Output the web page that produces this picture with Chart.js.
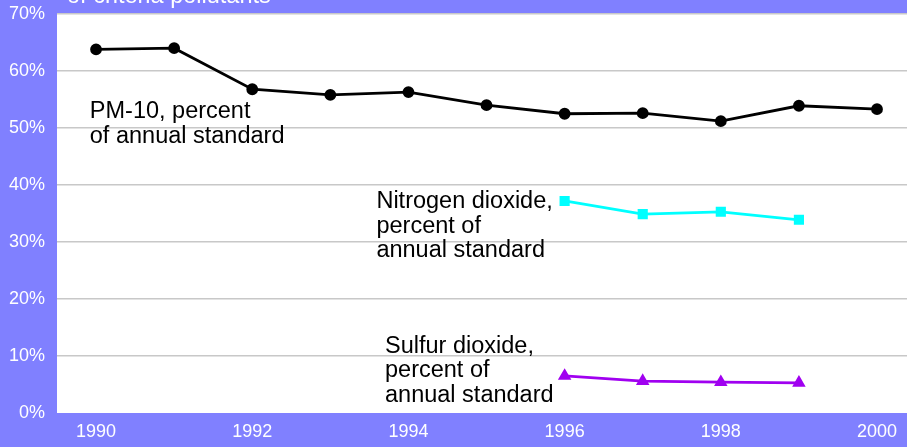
<!DOCTYPE html>
<html>
<head>
<meta charset="utf-8">
<style>
  html, body { margin: 0; padding: 0; background: #8080ff; }
  #wrap { width: 907px; height: 447px; }
</style>
<script src="https://cdn.jsdelivr.net/npm/chart.js@4.4.1/dist/chart.umd.min.js"></script>
</head>
<body>
<div id="wrap"><canvas id="chart" width="907" height="447"></canvas></div>
<script>
const years = [1990, 1991, 1992, 1993, 1994, 1995, 1996, 1997, 1998, 1999, 2000];
const pm10 = [63.8, 64.0, 56.8, 55.8, 56.3, 54.0, 52.5, 52.6, 51.2, 53.9, 53.3];
const no2Years = [1996, 1997, 1998, 1999];
const no2 = [37.2, 34.9, 35.3, 33.9];
const so2Years = [1996, 1997, 1998, 1999];
const so2 = [6.5, 5.6, 5.4, 5.3];
const xTicks = [1990, 1992, 1994, 1996, 1998, 2000];
const yTicks = [0, 10, 20, 30, 40, 50, 60, 70];

const FONT = '"Liberation Sans", Arial, sans-serif';

// text labels placed in data coordinates (x = year, y = percent at first baseline)
const notes = [
  { lines: ['PM-10, percent', 'of annual standard'], x: 1989.92, y: 51.75 },
  { lines: ['Nitrogen dioxide,', 'percent of', 'annual standard'], x: 1993.59, y: 35.96 },
  { lines: ['Sulfur dioxide,', 'percent of', 'annual standard'], x: 1993.70, y: 10.53 }
];

const pts = (xs, ys) => xs.map((x, i) => ({ x: x, y: ys[i] }));
const noPad = () => ({ left: 0, top: 0, right: 0, bottom: 0 });

const backdrop = {
  id: 'backdrop',
  beforeDraw(chart) {
    const { ctx, chartArea: a } = chart;
    ctx.save();
    ctx.fillStyle = '#8080ff';
    ctx.fillRect(0, 0, chart.width, chart.height);
    ctx.fillStyle = '#ffffff';
    ctx.fillRect(a.left, a.top, a.right - a.left, a.bottom - a.top);
    ctx.restore();
  },
  afterDraw(chart) {
    const { ctx, scales } = chart;
    ctx.save();
    ctx.font = '23.5px ' + FONT;
    ctx.textBaseline = 'alphabetic';
    ctx.fillStyle = '#ffffff';
    ctx.fillText('of criteria pollutants', 67, 3);
    ctx.fillStyle = '#000000';
    notes.forEach(n => {
      const px = scales.x.getPixelForValue(n.x);
      const py = scales.y.getPixelForValue(n.y);
      n.lines.forEach((l, i) => ctx.fillText(l, px, py + i * 24.5));
    });
    ctx.restore();
  }
};

new Chart(document.getElementById('chart'), {
  type: 'line',
  data: {
    datasets: [
      {
        data: pts(years, pm10),
        borderColor: '#000000', backgroundColor: '#000000',
        borderWidth: 2.8, pointStyle: 'circle', pointRadius: 4.5
      },
      {
        data: pts(no2Years, no2),
        borderColor: '#00ffff', backgroundColor: '#00ffff',
        borderWidth: 2.8, pointStyle: 'rect', pointRadius: 5.2
      },
      {
        data: pts(so2Years, so2),
        borderColor: '#a000f0', backgroundColor: '#a000f0',
        borderWidth: 2.8, pointStyle: 'triangle', pointRadius: 5
      }
    ]
  },
  options: {
    responsive: false,
    animation: false,
    layout: { autoPadding: false, padding: { top: 14, left: 0, right: 0, bottom: 0 } },
    plugins: { legend: { display: false }, tooltip: { enabled: false } },
    elements: { line: { tension: 0 }, point: { borderWidth: 0 } },
    scales: {
      x: {
        type: 'linear',
        min: 1989.5,
        max: 2000.384,
        afterBuildTicks: s => { s.ticks = xTicks.map(v => ({ value: v })); },
        afterFit: s => {
          s.height = 34; s.paddingLeft = 0; s.paddingRight = 0; s.getPadding = noPad;
        },
        grid: { display: false, drawTicks: false },
        border: { display: false },
        ticks: {
          color: '#ffffff', font: { family: FONT, size: 18 }, padding: 8, maxRotation: 0,
          callback: v => String(v)
        }
      },
      y: {
        min: 0,
        max: 70,
        afterBuildTicks: s => { s.ticks = yTicks.map(v => ({ value: v })); },
        afterFit: s => {
          s.width = 57; s.paddingTop = 0; s.paddingBottom = 0; s.getPadding = noPad;
        },
        grid: {
          color: c => (c.tick && c.tick.value === 0) ? 'rgba(0,0,0,0)' : '#c8c8c8',
          lineWidth: 1.5,
          drawTicks: false
        },
        border: { display: false },
        ticks: {
          color: '#ffffff', font: { family: FONT, size: 18 }, padding: 12,
          callback: v => v + '%'
        }
      }
    }
  },
  plugins: [backdrop]
});
</script>
</body>
</html>
